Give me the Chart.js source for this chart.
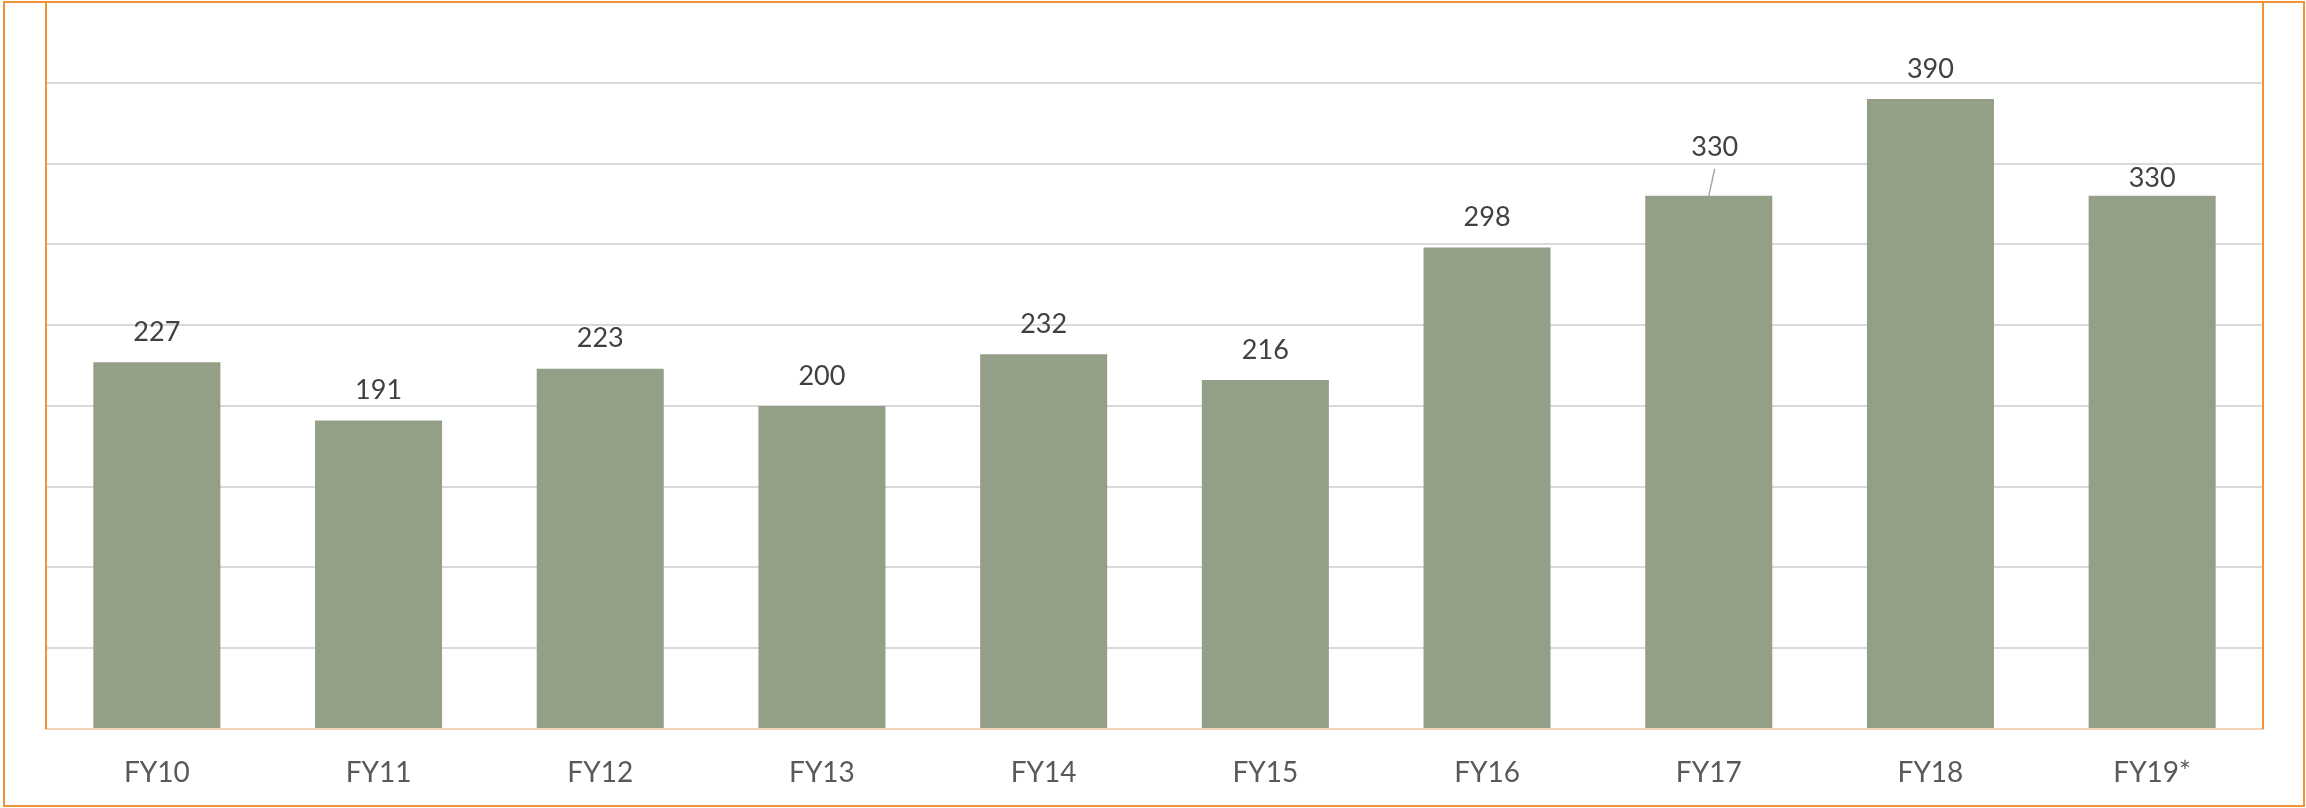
<!DOCTYPE html>
<html><head><meta charset="utf-8">
<script src="https://cdn.jsdelivr.net/npm/chart.js@4/dist/chart.umd.min.js"></script>
<style>html,body{margin:0;padding:0;background:#fff;overflow:hidden}#wrap{width:2306px;height:808px;position:relative}canvas{display:block}</style>
</head><body><div id="wrap"><canvas id="c" width="2306" height="808"></canvas></div>
<script>
const categories = ['FY10','FY11','FY12','FY13','FY14','FY15','FY16','FY17','FY18','FY19*'];
const values = [227,191,223,200,232,216,298,330,390,330];
const yTicks = [0,50,100,150,200,250,300,350,400,450];

const FONT = 'Lato, "Open Sans", sans-serif';

const labelPlugin = {
  id: 'valueLabels',
  afterDatasetsDraw(chart, args, opts) {
    const ctx = chart.ctx;
    const meta = chart.getDatasetMeta(0);
    ctx.save();
    ctx.font = '27px ' + FONT;
    ctx.fillStyle = '#404040';
    ctx.textAlign = 'center';
    ctx.textBaseline = 'middle';
    meta.data.forEach((bar, i) => {
      const lift = opts.lift[i] != null ? opts.lift[i] : opts.defaultLift;
      const dx = opts.dx[i] || 0;
      const x = bar.x + dx, y = bar.y - lift;
      ctx.fillText(String(chart.data.datasets[0].data[i]), x, y);
      if (opts.leader[i]) {
        ctx.strokeStyle = '#a6a6a6';
        ctx.lineWidth = 1.5;
        ctx.beginPath();
        ctx.moveTo(bar.x, bar.y);
        ctx.lineTo(x, y + 22);
        ctx.stroke();
      }
    });
    ctx.restore();
  }
};

const framePlugin = {
  id: 'frame',
  beforeDraw(chart) {
    const ctx = chart.ctx;
    ctx.save();
    ctx.fillStyle = '#ffffff';
    ctx.fillRect(0, 0, chart.width, chart.height);
    ctx.restore();
  },
  afterDraw(chart) {
    const ctx = chart.ctx, a = chart.chartArea;
    ctx.save();
    ctx.strokeStyle = '#EE9434';
    ctx.lineWidth = 2;
    ctx.beginPath();
    ctx.moveTo(a.left, a.bottom); ctx.lineTo(a.left, a.top);
    ctx.lineTo(a.right, a.top); ctx.lineTo(a.right, a.bottom);
    ctx.stroke();
    ctx.strokeRect(4, 2, chart.width - 6, chart.height - 4);
    ctx.restore();
  }
};

new Chart(document.getElementById('c'), {
  type: 'bar',
  data: {
    labels: categories,
    datasets: [{
      data: values,
      backgroundColor: '#939F87',
      borderWidth: 0,
      categoryPercentage: 1,
      barPercentage: 0.573
    }]
  },
  options: {
    responsive: false,
    animation: false,
    devicePixelRatio: 1,
    layout: { padding: { left: 46, right: 43, top: 2, bottom: 19 } },
    plugins: {
      legend: { display: false },
      tooltip: { enabled: false },
      valueLabels: {
        defaultLift: 30,
        lift: [30, 30, 30, 30, 30, 30, 30, 49, 30, 18],
        dx: [0, 0, 0, 0, 0, 0, 0, 6, 0, 0],
        leader: [false, false, false, false, false, false, false, true, false, false]
      }
    },
    scales: {
      x: {
        afterFit(scale) { scale.height = 60; },
        grid: { display: false, drawTicks: false },
        border: { display: true, color: '#F2D3B6', width: 2 },
        ticks: { color: '#595959', font: { family: FONT, size: 28 }, padding: 27, maxRotation: 0 }
      },
      y: {
        min: 0, max: 450,
        afterBuildTicks(scale) { scale.ticks = yTicks.map(v => ({ value: v })); },
        grid: { color: '#D9D9D9', lineWidth: 2, drawTicks: false },
        border: { display: false },
        ticks: { display: false }
      }
    }
  },
  plugins: [labelPlugin, framePlugin]
});
</script>
</body></html>
